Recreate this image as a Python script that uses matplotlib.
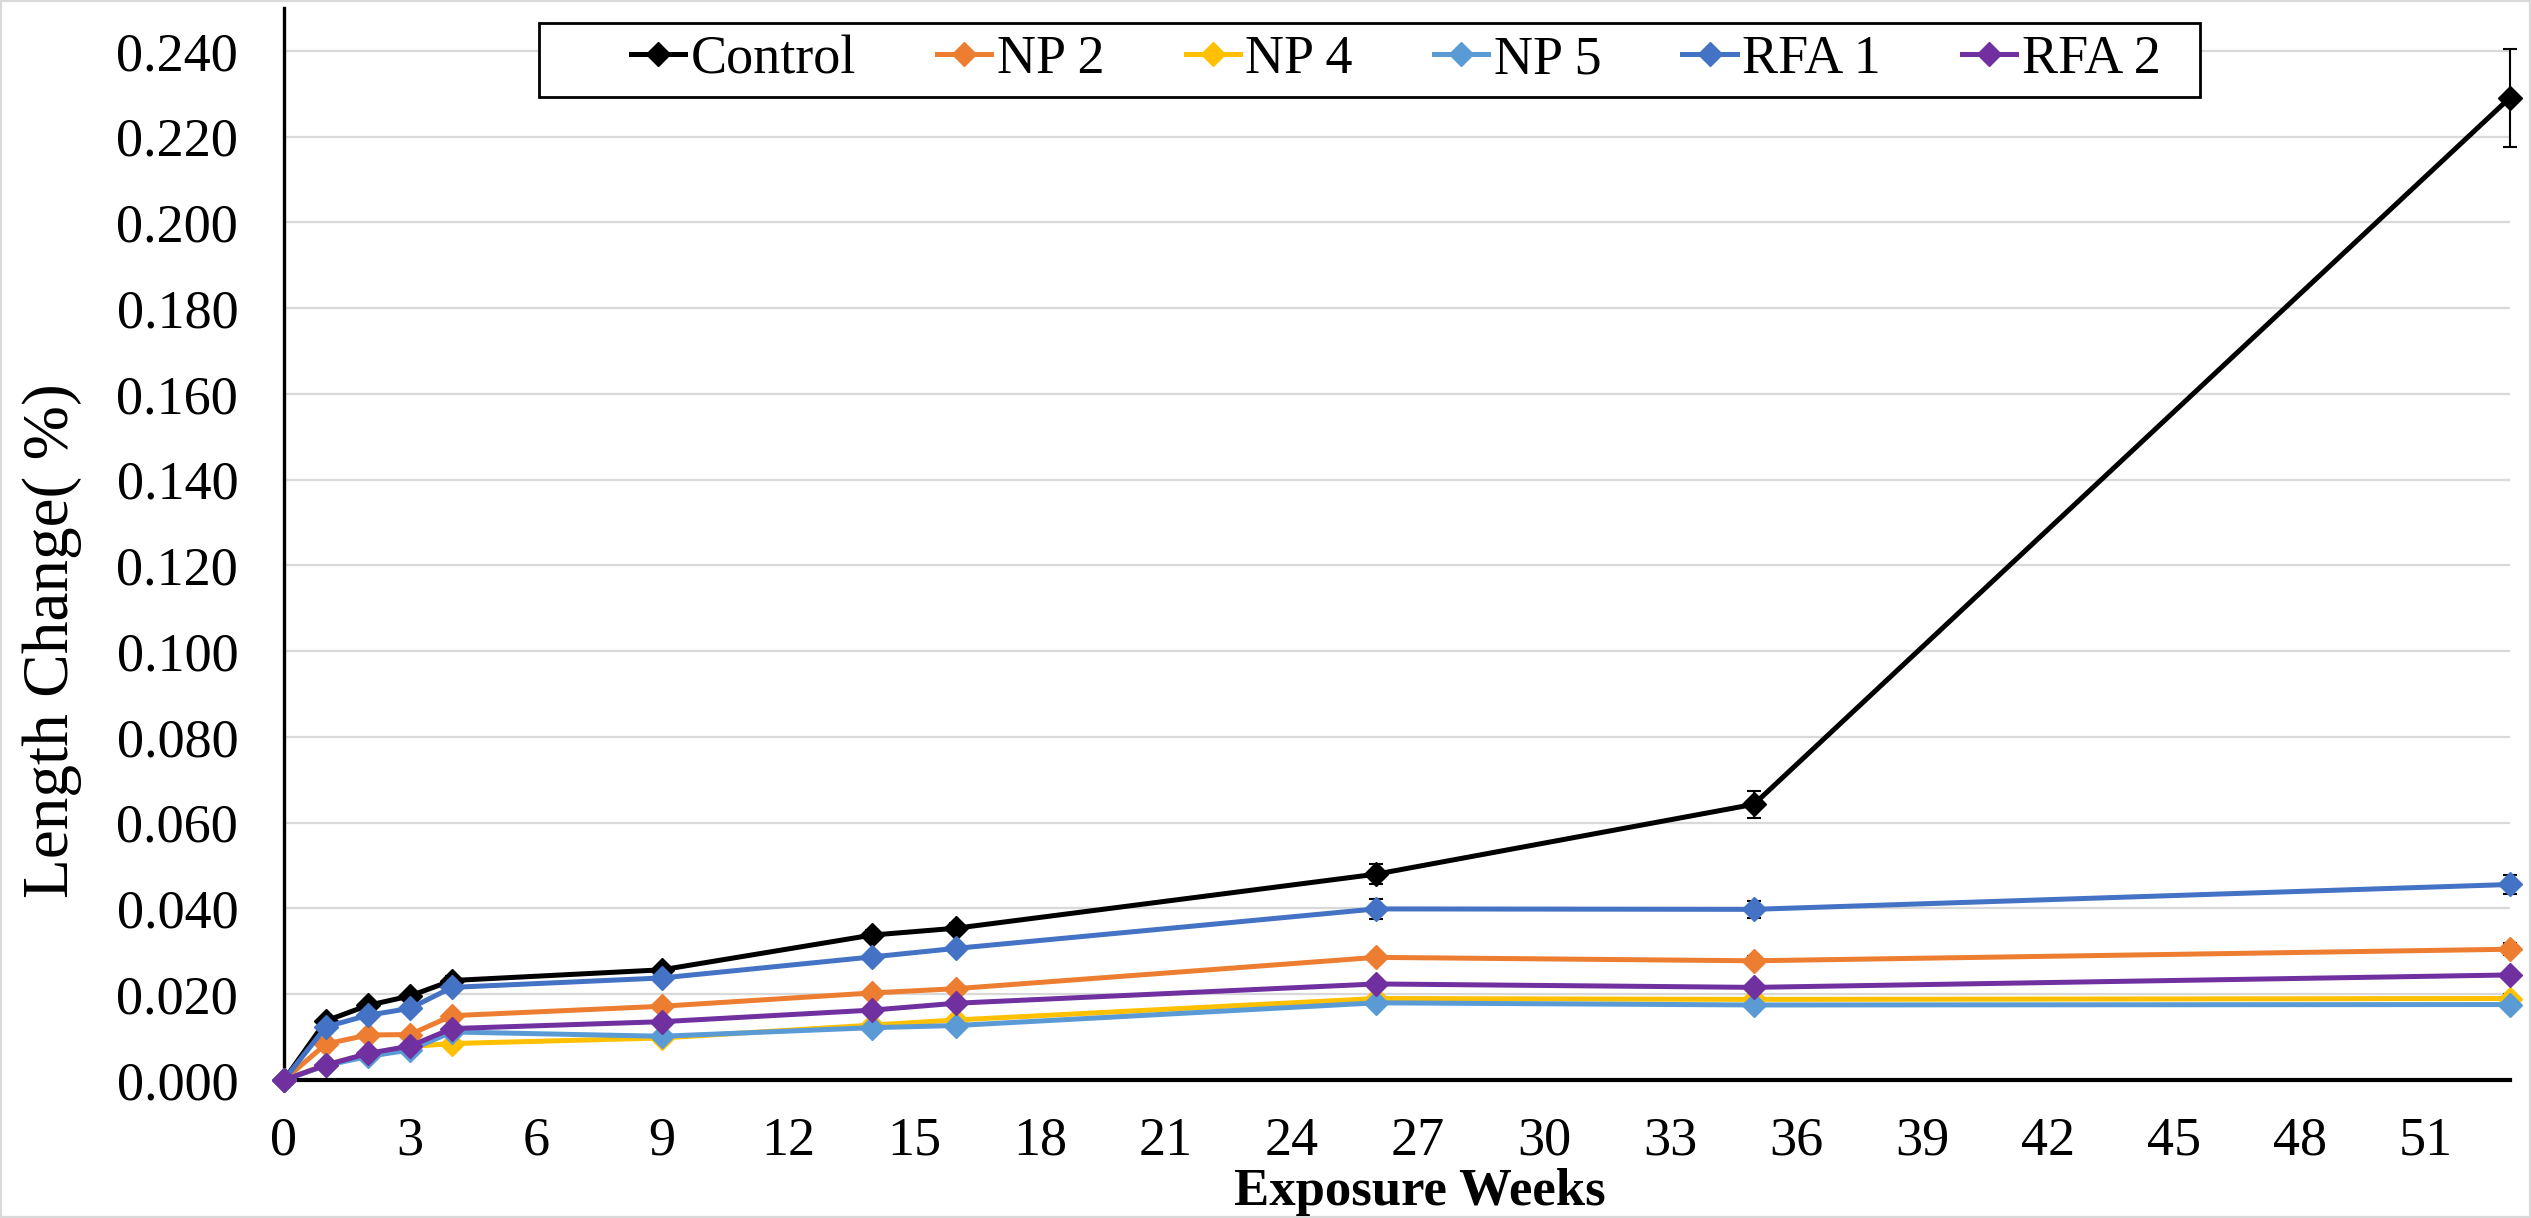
import numpy as np
import matplotlib
matplotlib.use("Agg")
import matplotlib.pyplot as plt
from matplotlib.patches import Rectangle
from matplotlib.ticker import FormatStrFormatter, MultipleLocator

plt.rcParams['font.family'] = ['Liberation Serif', 'DejaVu Serif']

weeks = [0, 1, 2, 3, 4, 9, 14, 16, 26, 35, 53]

control = [0.000, 0.0138, 0.0174, 0.0196, 0.0232, 0.0257, 0.0338, 0.0354, 0.0480, 0.0643, 0.2291]
np2     = [0.000, 0.0084, 0.0105, 0.0106, 0.0150, 0.0172, 0.0203, 0.0213, 0.0286, 0.0278, 0.0305]
np4     = [0.000, 0.0036, 0.0060, 0.0078, 0.0085, 0.0098, 0.0128, 0.0140, 0.0190, 0.0188, 0.0190]
np5     = [0.000, 0.0034, 0.0055, 0.0070, 0.0112, 0.0102, 0.0122, 0.0127, 0.0180, 0.0175, 0.0176]
rfa1    = [0.000, 0.0124, 0.0151, 0.0167, 0.0216, 0.0238, 0.0287, 0.0307, 0.0399, 0.0398, 0.0456]
rfa2    = [0.000, 0.0035, 0.0062, 0.0079, 0.0120, 0.0136, 0.0163, 0.0179, 0.0224, 0.0216, 0.0245]

# standard deviations (error bars)
control_err = [0.0, 0.0008, 0.0008, 0.0008, 0.0010, 0.0010, 0.0012, 0.0012, 0.0023, 0.0031, 0.0114]
np2_err     = [0.0, 0.0005, 0.0005, 0.0005, 0.0006, 0.0006, 0.0008, 0.0008, 0.0010, 0.0012, 0.0014]
np4_err     = [0.0, 0.0004, 0.0004, 0.0004, 0.0005, 0.0005, 0.0006, 0.0006, 0.0008, 0.0008, 0.0010]
np5_err     = [0.0, 0.0004, 0.0004, 0.0004, 0.0005, 0.0005, 0.0006, 0.0006, 0.0008, 0.0008, 0.0010]
rfa1_err    = [0.0, 0.0006, 0.0006, 0.0006, 0.0008, 0.0008, 0.0010, 0.0010, 0.0024, 0.0020, 0.0022]
rfa2_err    = [0.0, 0.0004, 0.0004, 0.0004, 0.0005, 0.0005, 0.0006, 0.0006, 0.0008, 0.0008, 0.0010]

names = ['Control', 'NP 2', 'NP 4', 'NP 5', 'RFA 1', 'RFA 2']
series = [control, np2, np4, np5, rfa1, rfa2]
errors = [control_err, np2_err, np4_err, np5_err, rfa1_err, rfa2_err]
colors = ['#000000', '#ED7D31', '#FFC000', '#5B9BD5', '#4472C4', '#7030A0']

fig = plt.figure(figsize=(25.31, 12.18), dpi=100)
ax = fig.add_axes([0.1122, 0.1133, 0.8795, 0.8801])

for name, y, e, c in zip(names, series, errors, colors):
    ax.errorbar(weeks, y, yerr=e, fmt='none', ecolor='black', elinewidth=1.5,
                capsize=5, capthick=1.5, clip_on=False, zorder=2)
    ax.plot(weeks, y, color=c, lw=3.6, marker='D', markersize=12,
            label=name, clip_on=False, zorder=3)

ax.set_xlim(0, 53)
ax.set_ylim(0, 0.25)
ax.xaxis.set_major_locator(MultipleLocator(3))
ax.set_yticks(np.arange(0, 0.241, 0.02))
ax.yaxis.set_major_formatter(FormatStrFormatter('%.3f'))
ax.tick_params(axis='x', length=0, pad=26, labelsize=39)
ax.tick_params(axis='y', length=0, pad=33, labelsize=39)

ax.grid(axis='y', color='#d9d9d9', lw=1.6)
ax.set_axisbelow(True)
for s in ['top', 'right']:
    ax.spines[s].set_visible(False)
ax.spines['left'].set_linewidth(2.4)
ax.spines['bottom'].set_linewidth(3.0)

fig.text(0.561, 0.0107, 'Exposure Weeks', fontsize=38, fontweight='bold',
         ha='center', va='baseline')
fig.text(0.0205, 0.4737, 'Length Change( %)', fontsize=47, rotation=90,
         ha='center', va='center')

# legend entries without frame, box drawn separately with wider left margin
leg = fig.legend(loc='center left', bbox_to_anchor=(0.2493, 0.9507), ncol=6,
                 fontsize=39, frameon=False, handlelength=1.0,
                 handletextpad=0.1, columnspacing=1.5,
                 borderpad=0, borderaxespad=0)
fig.patches.append(Rectangle((539 / 2531, 1 - 97 / 1218), (2200 - 539) / 2531,
                             74 / 1218, transform=fig.transFigure,
                             fill=True, facecolor='white', edgecolor='black',
                             lw=2.0, zorder=4))
leg.set_zorder(5)

fig.patches.append(Rectangle((0, 0), 1, 1, transform=fig.transFigure,
                             fill=False, edgecolor='#d9d9d9', lw=3))

fig.savefig('out.png', dpi=100)
